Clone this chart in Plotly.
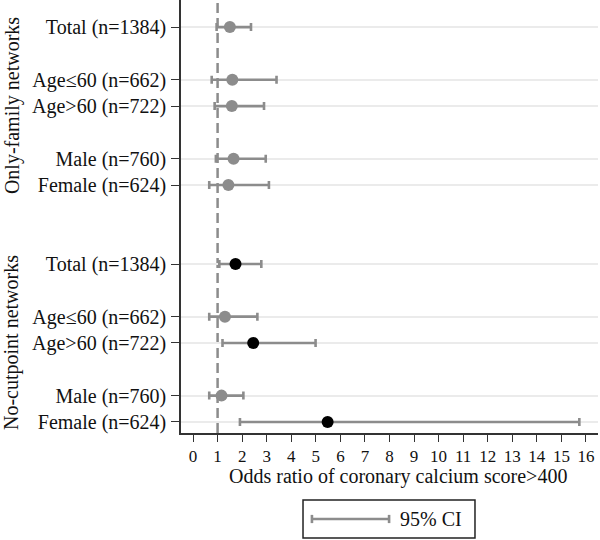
import plotly.graph_objects as go

# ---- data ----
row_labels = ["Total (n=1384)", "Age\u226460 (n=662)", "Age>60 (n=722)", "Male (n=760)", "Female (n=624)"]
group_names = ["Only-family networks", "No-cutpoint networks"]

of_or = [1.50, 1.60, 1.58, 1.65, 1.44]
of_lo = [0.96, 0.76, 0.88, 0.93, 0.66]
of_hi = [2.36, 3.40, 2.89, 2.96, 3.09]
of_sig = [False, False, False, False, False]

nc_or = [1.73, 1.30, 2.45, 1.16, 5.48]
nc_lo = [1.07, 0.66, 1.20, 0.66, 1.91]
nc_hi = [2.78, 2.62, 4.99, 2.05, 15.73]
nc_sig = [True, False, True, False, True]

x_ticks = list(range(0, 17))
x_title = "Odds ratio of coronary calcium score>400"
legend_text = "95% CI"

# ---- layout of rows: gaps between sub-blocks ----
offsets = [6, 4, 3, 1, 0]          # relative to group's bottom row
group_base = [9, 0]

GRAY = "#8c8c8c"
FONT = "Liberation Serif"

fig = go.Figure()
all_y, all_text = [], []
groups = [(of_or, of_lo, of_hi, of_sig), (nc_or, nc_lo, nc_hi, nc_sig)]
for gi, (orv, lo, hi, sig) in enumerate(groups):
    ys = [group_base[gi] + 1 + o for o in offsets]
    all_y += ys
    all_text += row_labels
    fig.add_trace(go.Scatter(
        x=orv, y=ys, mode="markers",
        marker=dict(size=12, color=["#000000" if s else GRAY for s in sig]),
        error_x=dict(type="data", symmetric=False,
                     array=[h - o for h, o in zip(hi, orv)],
                     arrayminus=[o - l for o, l in zip(orv, lo)],
                     color=GRAY, thickness=2.6, width=4),
        showlegend=False, hoverinfo="skip"))

# reference line at OR = 1
fig.add_shape(type="line", xref="x", yref="paper", x0=1, x1=1, y0=0, y1=1,
              line=dict(color=GRAY, width=2.5, dash="10px,5px"), layer="below")

# group labels
for gi, name in enumerate(group_names):
    fig.add_annotation(text=name, xref="paper", yref="y", x=0, xshift=-169,
                       y=group_base[gi] + 1 + 3, textangle=-90, showarrow=False,
                       font=dict(family=FONT, size=20, color="#111"),
                       xanchor="center", yanchor="middle")

# x-axis title
fig.add_annotation(text=x_title, xref="paper", yref="paper", x=0.52, y=0,
                   yshift=-43, showarrow=False, yanchor="middle",
                   font=dict(family=FONT, size=20, color="#111"))

# manual legend box with CI glyph
fig.add_shape(type="rect", xref="paper", yref="paper",
              x0=0.2926, x1=0.705, y0=-0.1547, y1=-0.2425,
              line=dict(color="#222", width=1.5), fillcolor="white")
fig.add_shape(type="line", xref="paper", yref="paper",
              x0=0.314, x1=0.499, y0=-0.1986, y1=-0.1986,
              line=dict(color=GRAY, width=2.6))
for xc in (0.314, 0.499):
    fig.add_shape(type="line", xref="paper", yref="paper",
                  x0=xc, x1=xc, y0=-0.1986 + 0.0095, y1=-0.1986 - 0.0095,
                  line=dict(color=GRAY, width=2.6))
fig.add_annotation(text=legend_text, xref="paper", yref="paper", x=0.52, y=-0.1986,
                   xanchor="left", yanchor="middle", showarrow=False,
                   font=dict(family=FONT, size=20, color="#111"))

fig.update_layout(
    width=600, height=540,
    margin=dict(l=181, r=2, t=0, b=107),
    plot_bgcolor="white", paper_bgcolor="white",
    font=dict(family=FONT, size=20, color="#111"),
    showlegend=False,
)
fig.update_xaxes(range=[-0.49, 16.49], tickvals=x_ticks, ticktext=[str(t) for t in x_ticks],
                 automargin=False,
                 showgrid=False, zeroline=False, showline=True, linecolor="#333", linewidth=1.5,
                 ticks="outside", ticklen=7, tickwidth=1.3, tickcolor="#333",
                 tickfont=dict(family=FONT, size=17, color="#111"))
fig.update_yaxes(range=[0.58, 17.03], tickvals=all_y, ticktext=all_text,
                 automargin=False, ticklabelstandoff=1,
                 showgrid=True, gridcolor="#ebebeb", gridwidth=1.5, zeroline=False,
                 showline=True, linecolor="#333", linewidth=1.5,
                 ticks="outside", ticklen=8, tickwidth=1.3, tickcolor="#333",
                 tickfont=dict(family=FONT, size=20, color="#111"))

# remove the browser's default 8px body margin so the figure fills the window
fig.write_html("out.html", config={"displayModeBar": False},
               post_script="document.body.style.margin='0';document.body.style.overflow='hidden';")
